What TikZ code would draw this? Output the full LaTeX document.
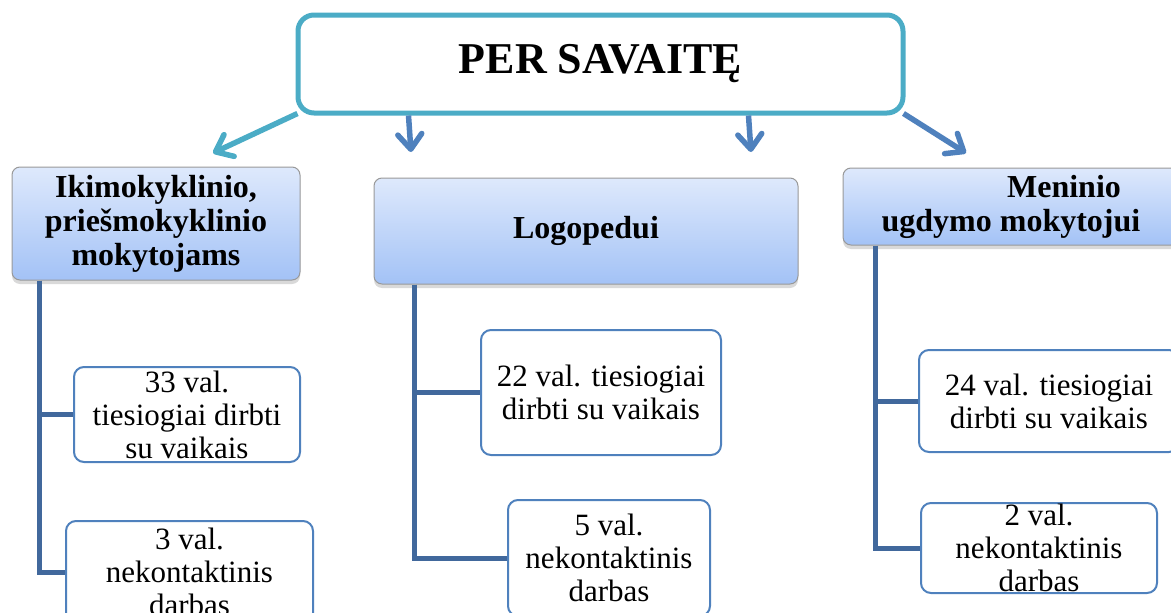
\documentclass[tikz,border=0pt]{standalone}
\usepackage{fontspec}
\setmainfont{Liberation Serif}
\usetikzlibrary{arrows.meta,shadows,positioning}
\definecolor{myteal} {RGB} {75,172,198}
\definecolor{myblue} {RGB} {79,129,189}
\definecolor{mylink} {RGB} {65,104,156}
\definecolor{hdrtop} {RGB} {222,233,252}
\definecolor{hdrbot} {RGB} {163,194,246}

\begin{document}
\begin{tikzpicture}[x=1pt,y=-1pt,
        topbox/.style={draw=myteal,line width=5pt,rounded corners=16pt,fill=white,
            minimum width=605pt,minimum height=98pt,font=\fontsize{44}{48}\selectfont\bfseries},
        hdr/.style={draw=gray!80,line width=1pt,rounded corners=8pt,top color=hdrtop,bottom color=hdrbot,
            drop shadow={shadow xshift=0pt,shadow yshift=-4pt,opacity=.3},
            align=center,inner sep=0pt,font=\fontsize{32}{34}\selectfont\bfseries},
        leaf/.style={draw=myblue,line width=2pt,rounded corners=10pt,fill=white,align=center,
            inner xsep=0pt,inner ysep=-4pt,font=\fontsize{31}{33}\selectfont},
        link/.style={mylink,line width=5pt},
        pointer/.style={line width=5.5pt,-{Straight Barb[length=15pt,width=24pt,round]}}]
        \useasboundingbox (0,0) rectangle (1171,613);
        \node[topbox] (top) at (600.5,64) {PER SAVAITĘ};
        \coordinate (tipA) at (213,153);
        \coordinate (tipB) at (411,152);
        \coordinate (tipC) at (751,152);
        \coordinate (tipD) at (966,153);
        \draw[pointer,myteal] ([xshift=2pt,yshift=2pt]top.south west) -- (tipA);
        \draw[pointer,myblue] ([xshift=113pt]top.south west) -- (tipB);
        \draw[pointer,myblue] ([xshift=453pt]top.south west) -- (tipC);
        \draw[pointer,myblue] ([xshift=-2pt,yshift=2pt]top.south east) -- (tipD);
        \node[hdr,minimum width=288pt,minimum height=113pt] (hdrA) at (156,223.5)
            {Ikimokyklinio,\\priešmokyklinio\\mokytojams};
        \node[hdr,minimum width=424pt,minimum height=106pt] (hdrB) at (586,231) {Logopedui};
        \node[hdr,minimum width=336pt,minimum height=77pt] (hdrC) at (1011,206.5)
            {\hspace*{106pt}Meninio\\ugdymo mokytojui};
        \node[leaf,minimum width=226pt,minimum height=95pt] (leafA1) at (187,414.5)
            {33 val.\\tiesiogiai dirbti\\su vaikais};
        \node[leaf,minimum width=247pt,minimum height=102pt] (leafA2) at (189.5,572)
            {3 val.\\nekontaktinis\\darbas};
        \node[leaf,minimum width=240pt,minimum height=125pt] (leafB1) at (601,392.5)
            {22 val. tiesiogiai\\dirbti su vaikais};
        \node[leaf,minimum width=202pt,minimum height=116pt] (leafB2) at (609,558)
            {5 val.\\nekontaktinis\\darbas};
        \node[leaf,minimum width=260pt,minimum height=102pt] (leafC1) at (1049,401)
            {24 val. tiesiogiai\\dirbti su vaikais};
        \node[leaf,minimum width=236pt,minimum height=90pt] (leafC2) at (1039,548)
            {2 val.\\nekontaktinis\\darbas};
        \draw[link] ([xshift=28pt]hdrA.south west) |- (leafA1.west);
        \draw[link] ([xshift=28pt]hdrA.south west) |- (leafA2.west);
        \draw[link] ([xshift=41pt]hdrB.south west) |- (leafB1.west);
        \draw[link] ([xshift=41pt]hdrB.south west) |- (leafB2.west);
        \draw[link] ([xshift=33pt]hdrC.south west) |- (leafC1.west);
        \draw[link] ([xshift=33pt]hdrC.south west) |- (leafC2.west);
\end{tikzpicture}
\end{document}
